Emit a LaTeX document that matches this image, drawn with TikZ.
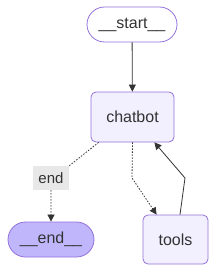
\documentclass[tikz,border=0pt]{standalone}
\usepackage{fontspec}
\setmainfont{Liberation Sans}
\usetikzlibrary{shapes.misc,arrows.meta,calc}
\definecolor{nodefill}{HTML}{F2F0FF}
\definecolor{nodeline}{HTML}{9370DB}
\definecolor{endfill}{HTML}{BFB6FC}
\definecolor{ink}{HTML}{333333}
\definecolor{lblbg}{HTML}{E8E8E8}
\tikzset{
  every node/.style={text=ink, font=\fontsize{16}{18}\selectfont, inner sep=0pt},
  stadium/.style={rounded rectangle, draw=nodeline, line width=0.8pt, minimum height=35pt},
  boxnode/.style={rectangle, rounded corners=5pt, draw=nodeline, fill=nodefill, line width=0.8pt},
  edgelbl/.style={fill=lblbg, minimum width=36pt, minimum height=24pt, font=\fontsize{15}{17}\selectfont},
  conn/.style={draw=ink, line width=0.8pt, -{Triangle[length=7pt,width=7pt]}},
  dotline/.style={draw=ink, line width=0.8pt, dash pattern=on 1.5pt off 1.5pt},
  dotconn/.style={conn, dash pattern=on 1.5pt off 1.5pt},
}
\begin{document}
\begin{tikzpicture}[x=1pt,y=-1pt]
\useasboundingbox (0,0) rectangle (216,273);
\node[stadium, fill=white, minimum width=90pt] (start) at (132,24.5) {\_\_start\_\_};
\node[boxnode, minimum width=83pt, minimum height=50pt] (chatbot) at (132.5,117) {chatbot};
\node[edgelbl] (endlbl) at (51,178) {end};
\node[stadium, fill=endfill, minimum width=86pt] (end) at (51,239.5) {\_\_end\_\_};
\node[boxnode, minimum width=65pt, minimum height=49pt] (tools) at (175.5,239.5) {tools};
\coordinate (c1) at (132,178);
\coordinate (c2) at (185,178);
\coordinate (cbsw) at ($(chatbot.south west)+(8,0)$);
\coordinate (cbse) at ($(chatbot.south east)+(-20,0)$);
\coordinate (tnw) at ($(tools.north west)+(14,0)$);
\coordinate (tn) at ($(tools.north)+(4.5,0)$);
\draw[conn] (start) -- (chatbot);
\draw[dotline] (cbsw) -- (endlbl.north east);
\draw[dotconn] (endlbl) -- (end);
\draw[dotconn] (chatbot.south) -- (c1) -- (tnw);
\draw[conn] (tn) -- (c2) -- (cbse);
\end{tikzpicture}
\end{document}
